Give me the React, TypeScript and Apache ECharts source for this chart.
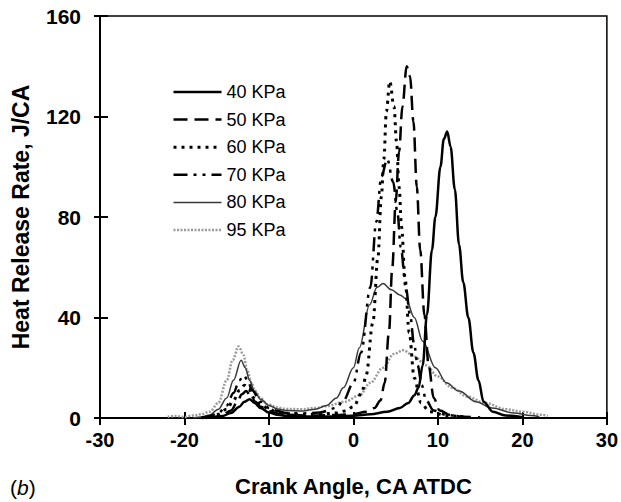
import React, { useEffect, useRef } from "react";
import * as echarts from "echarts";

const seriesNames = ["40 KPa", "50 KPa", "60 KPa", "70 KPa", "80 KPa", "95 KPa"];

const xTicks = { min: -30, max: 30, interval: 10 };
const yTicks = { min: 0, max: 160, interval: 40 };

const kpa40: [number, number][] = [
  [-17.5, 0], [-16.5, 0.3], [-15.5, 0.8], [-14.5, 2], [-13.5, 4.5], [-12.9, 6.5], [-12.3, 7.5],
  [-11.7, 6], [-11, 4], [-10, 2.2], [-9, 1.3], [-8, 0.9], [-6, 0.6], [-4, 0.5], [-2, 0.6],
  [0, 0.9], [2, 1.5], [4, 2.5], [5.5, 4], [6.5, 6], [7.2, 9], [7.7, 12], [8.2, 21], [8.7, 41],
  [9.3, 67], [9.7, 80], [10.3, 100], [10.7, 111], [11.1, 114], [11.5, 108], [12, 91], [12.5, 69],
  [13, 54], [13.6, 40], [14.2, 26], [14.8, 15], [15.4, 6.5], [16.5, 2.5], [18, 1], [20, 0.3],
];

const kpa50: [number, number][] = [
  [-17.5, 0], [-16.5, 0.4], [-15.5, 1.2], [-14.5, 3], [-13.8, 6], [-13.2, 9.5], [-12.7, 10.7],
  [-12.2, 9], [-11.6, 6.5], [-11, 4.5], [-10, 2.8], [-9, 1.8], [-8, 1.3], [-6, 1], [-4, 1],
  [-2, 1.2], [0, 1.6], [1.5, 2.5], [2.5, 4], [3.2, 7], [3.7, 14], [4.2, 34], [4.6, 60], [5, 86],
  [5.4, 106], [5.8, 124], [6.3, 140], [6.7, 136], [7.1, 118], [7.5, 92], [7.9, 67], [8.4, 41],
  [8.9, 21], [9.5, 8], [10.2, 3], [11.5, 1.2], [13, 0.5], [15, 0.2],
];

const kpa60: [number, number][] = [
  [-18, 0], [-17, 0.5], [-16, 1.5], [-15, 3.5], [-14.2, 7], [-13.5, 11], [-12.9, 13],
  [-12.4, 11.5], [-11.8, 8], [-11, 5.5], [-10, 3.5], [-9, 2.3], [-8, 1.7], [-6, 1.4], [-4, 1.5],
  [-2, 2], [-1, 2.8], [0, 4.5], [1, 10], [1.5, 17], [2.3, 38], [2.9, 64], [3.3, 88], [3.6, 103],
  [3.9, 122], [4.3, 134], [4.8, 124], [5.1, 110], [5.4, 92], [5.7, 76], [6.1, 56], [6.6, 34],
  [7.2, 16], [8, 6], [9, 2.5], [11, 1], [13, 0.4],
];

const kpa70: [number, number][] = [
  [-18, 0], [-17, 0.7], [-16, 2], [-15, 5], [-14.2, 10], [-13.5, 15], [-13, 17], [-12.5, 15],
  [-12, 11], [-11, 6.5], [-10, 4], [-9, 2.8], [-8, 2], [-6, 1.8], [-4, 2.2], [-2, 4], [-1.2, 7],
  [0, 14], [0.9, 26], [2, 52], [2.7, 78], [3.3, 96], [4, 103], [4.7, 94], [5.2, 82], [5.6, 68],
  [6.2, 52], [6.7, 41], [7.2, 29], [7.6, 21], [8.1, 13], [8.6, 7], [9.5, 3], [11, 1.2], [13, 0.5],
];

const kpa80: [number, number][] = [
  [-19, 0], [-18, 0.4], [-17, 1.2], [-16, 3.5], [-15, 8], [-14.2, 15], [-13.3, 23], [-12.8, 20],
  [-12.3, 15], [-11.7, 10.5], [-11, 7.5], [-10, 5], [-9, 3.6], [-8, 3], [-6, 2.8], [-4.5, 3.5],
  [-3.2, 5], [-2, 8], [-1.2, 12], [0, 20], [0.7, 28], [1.9, 45], [2.8, 52], [3.5, 53.5],
  [4.5, 51], [5.5, 49], [6.2, 47.5], [7.2, 40], [8.2, 30.5], [9.7, 20], [11, 14], [12.5, 10.7],
  [14.5, 6.5], [16.4, 4], [19, 2], [21, 1], [22, 0.5],
];

const kpa95: [number, number][] = [
  [-22, 0.5], [-21, 0.8], [-20, 0.4], [-19, 1], [-18, 1.5], [-17, 2.5], [-16, 6], [-15, 15],
  [-14.3, 23], [-13.6, 28.5], [-13, 25], [-12.6, 19], [-12, 13.5], [-11.7, 11], [-11, 8],
  [-10.2, 5.5], [-9, 4.2], [-8, 3.6], [-6, 3.5], [-4.5, 4], [-3.2, 4.7], [-1, 6.5], [0.7, 9],
  [2, 14], [3.5, 20], [4.8, 25.5], [5.9, 27], [7.2, 24.5], [8.6, 21], [10, 16.5], [11.7, 12],
  [13.5, 8.5], [15.6, 6], [18, 3.5], [20, 2.5], [22.3, 1.3], [23, 0.8],
];

const seriesData = [kpa40, kpa50, kpa60, kpa70, kpa80, kpa95];

const FONT = "Liberation Sans, Arial, sans-serif";

const lineStyles: any[] = [
  { color: "#000", width: 2.5, type: "solid" },
  { color: "#000", width: 2.5, type: [14, 7] },
  { color: "#000", width: 3, type: [3, 5] },
  { color: "#000", width: 2.5, type: [14, 6, 3, 6, 3, 6] },
  { color: "#3a3a3a", width: 1.5, type: "solid" },
  { color: "#9a9a9a", width: 2.5, type: [2, 1.5] },
];

export default function App() {
  const ref = useRef<HTMLDivElement>(null);
  useEffect(() => {
    if (!ref.current) return;
    const chart = echarts.init(ref.current, null, { renderer: "svg" });
    const drawOrder = [5, 4, 3, 2, 1, 0];
    chart.setOption({
      animation: false,
      backgroundColor: "#fff",
      textStyle: { fontFamily: FONT },
      grid: {
        left: 100,
        right: 10,
        top: 16,
        bottom: 82,
        show: true,
        borderColor: "#000",
        borderWidth: 1.5,
        backgroundColor: "transparent",
      },
      legend: {
        data: seriesNames,
        orient: "vertical",
        left: 172,
        top: 83,
        padding: 0,
        itemWidth: 48,
        itemHeight: 18,
        itemGap: 9.6,
        selectedMode: false,
        textStyle: { fontFamily: FONT, fontSize: 18, color: "#000" },
        lineStyle: { width: "inherit" },
        itemStyle: { opacity: 0, borderWidth: 0 },
      },
      xAxis: [
        {
          type: "value",
          min: xTicks.min,
          max: xTicks.max,
          interval: xTicks.interval,
          position: "bottom",
          name: "Crank Angle, CA ATDC",
          nameLocation: "middle",
          nameGap: 57,
          nameTextStyle: { fontFamily: FONT, fontSize: 22, fontWeight: "bold", color: "#000" },
          axisLine: { show: true, onZero: false, lineStyle: { color: "#000", width: 2 } },
          axisTick: { show: true, inside: false, length: 7, lineStyle: { color: "#000", width: 2 } },
          axisLabel: { fontFamily: FONT, fontSize: 20, fontWeight: "bold", color: "#000", margin: 12 },
          splitLine: { show: false },
        },
        {
          type: "value",
          min: xTicks.min,
          max: xTicks.max,
          interval: xTicks.interval,
          position: "bottom",
          axisLine: { show: false, onZero: false },
          axisTick: { show: true, inside: true, length: 6, lineStyle: { color: "#000", width: 2 } },
          axisLabel: { show: false },
          splitLine: { show: false },
        },
      ],
      yAxis: [
        {
          type: "value",
          min: yTicks.min,
          max: yTicks.max,
          interval: yTicks.interval,
          position: "left",
          name: "Heat Release Rate, J/CA",
          nameLocation: "middle",
          nameGap: 68,
          nameRotate: 90,
          nameTextStyle: { fontFamily: FONT, fontSize: 23, fontWeight: "bold", color: "#000" },
          axisLine: { show: true, onZero: false, lineStyle: { color: "#000", width: 2 } },
          axisTick: { show: true, inside: false, length: 6, lineStyle: { color: "#000", width: 2 } },
          axisLabel: { fontFamily: FONT, fontSize: 21, fontWeight: "bold", color: "#000", margin: 19 },
          splitLine: { show: false },
        },
        {
          type: "value",
          min: yTicks.min,
          max: yTicks.max,
          interval: yTicks.interval,
          position: "left",
          axisLine: { show: false, onZero: false },
          axisTick: { show: true, inside: true, length: 8, lineStyle: { color: "#000", width: 2 } },
          axisLabel: { show: false },
          splitLine: { show: false },
        },
      ],
      graphic: [
        {
          type: "text",
          left: 10,
          top: 477,
          style: {
            text: "({i|b})",
            fontFamily: FONT,
            fontSize: 21,
            fill: "#000",
            rich: { i: { fontFamily: FONT, fontSize: 21, fontStyle: "italic", fill: "#000" } },
          },
        },
      ],
      series: drawOrder.map((i) => ({
        name: seriesNames[i],
        type: "line",
        data: seriesData[i],
        symbol: "none",
        smooth: 0.35,
        smoothMonotone: "x",
        lineStyle: lineStyles[i],
        itemStyle: { color: lineStyles[i].color },
        z: 2 + (5 - i),
      })),
    });
    return () => chart.dispose();
  }, []);
  return (
    <div
      ref={ref}
      style={{ position: "absolute", left: 0, top: 0, width: 621, height: 502, background: "#fff" }}
    />
  );
}
